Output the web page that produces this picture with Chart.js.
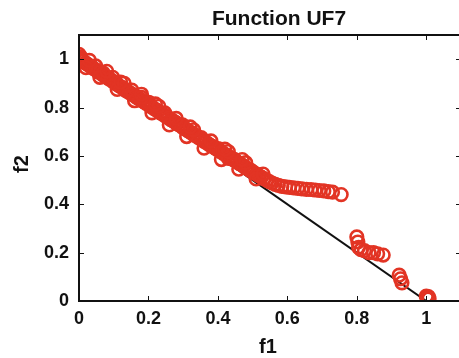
<!DOCTYPE html>
<html>
<head>
<meta charset="utf-8">
<script src="https://cdn.jsdelivr.net/npm/chart.js@4/dist/chart.umd.min.js"></script>
<style>
html,body{margin:0;padding:0;background:#fff;overflow:hidden;width:459px;height:358px;}
#wrap{width:461px;height:358px;}
</style>
</head>
<body>
<div id="wrap"><canvas id="c" width="461" height="358"></canvas></div>
<script>
const chartTitle = 'Function UF7';
const xAxisTitle = 'f1';
const yAxisTitle = 'f2';
const xTickValues = [0, 0.2, 0.4, 0.6, 0.8, 1];
const xTickLabels = ['0', '0.2', '0.4', '0.6', '0.8', '1'];
const yTickValues = [0, 0.2, 0.4, 0.6, 0.8, 1];
const yTickLabels = ['0', '0.2', '0.4', '0.6', '0.8', '1'];

// true Pareto front
const frontF1 = [0, 1];
const frontF2 = [1, 0];

// obtained solutions
const solF1 = [
0.000,0.003,0.008,0.012,0.018,0.022,0.028,0.033,0.038,0.043,0.050,0.055,0.060,0.066,0.072,0.078,0.083,0.088,0.094,0.100,
0.105,0.110,0.116,0.122,0.128,0.133,0.138,0.144,0.150,0.156,0.162,0.168,0.174,0.180,0.186,0.192,0.198,0.204,0.210,0.216,
0.222,0.228,0.234,0.240,0.246,0.252,0.258,0.264,0.270,0.276,0.282,0.288,0.294,0.300,0.306,0.312,0.318,0.324,0.330,0.336,
0.342,0.348,0.354,0.360,0.366,0.372,0.378,0.384,0.390,0.396,0.402,0.408,0.414,0.420,0.426,0.432,0.438,0.444,0.450,0.456,
0.462,0.468,0.474,0.480,0.486,0.492,0.498,0.505,0.512,0.518,0.525,0.532,0.540,0.548,0.556,0.565,0.574,0.584,0.595,0.606,
0.618,0.630,0.642,0.655,0.668,0.680,0.692,0.705,0.718,0.730,0.755,
0.005,0.048,0.097,0.152,0.201,0.247,0.298,0.352,0.401,0.447,0.495,0.070,0.180,0.280,0.330,0.430,
0.020,0.060,0.110,0.160,0.210,0.260,0.310,0.360,0.410,0.460,0.510,
0.030,0.080,0.130,0.180,0.230,0.280,0.330,0.380,0.430,0.480,0.530,0.120,0.220,0.320,0.420,0.470,
0.800,0.803,0.805,0.812,0.822,0.835,0.848,0.860,0.876,
0.922,0.926,0.930,
1.000,1.003,1.006,1.008,1.004
];
const solF2 = [
1.020,1.005,0.995,0.990,0.985,0.982,0.975,0.970,0.966,0.960,0.955,0.948,0.945,0.938,0.932,0.928,0.922,0.918,0.912,0.905,
0.900,0.896,0.890,0.884,0.880,0.872,0.868,0.863,0.858,0.852,0.846,0.840,0.836,0.830,0.824,0.818,0.814,0.806,0.802,0.796,
0.790,0.785,0.778,0.774,0.768,0.762,0.757,0.750,0.746,0.740,0.734,0.728,0.724,0.716,0.712,0.706,0.700,0.695,0.688,0.684,
0.678,0.672,0.668,0.660,0.656,0.650,0.644,0.640,0.634,0.628,0.624,0.618,0.612,0.606,0.602,0.596,0.590,0.585,0.580,0.574,
0.568,0.564,0.558,0.552,0.547,0.540,0.536,0.530,0.524,0.518,0.512,0.506,0.500,0.494,0.488,0.482,0.478,0.474,0.472,0.470,
0.468,0.466,0.464,0.462,0.461,0.459,0.457,0.455,0.452,0.450,0.440,
1.010,0.972,0.925,0.872,0.822,0.778,0.728,0.676,0.630,0.586,0.540,0.942,0.842,0.737,0.690,0.590,
0.965,0.925,0.875,0.828,0.778,0.728,0.680,0.632,0.585,0.545,0.505,
0.995,0.950,0.900,0.855,0.805,0.755,0.708,0.662,0.618,0.572,0.525,0.905,0.815,0.720,0.628,0.585,
0.265,0.244,0.222,0.212,0.208,0.200,0.200,0.195,0.190,
0.107,0.092,0.075,
0.020,0.014,0.018,0.010,0.008
];

const frontData = frontF1.map((x, i) => ({x: x, y: frontF2[i]}));
const solData = solF1.map((x, i) => ({x: x, y: solF2[i]}));

const ink = '#111';
const red = 'rgb(226,52,36)';

const framePlugin = {
  id: 'frame',
  afterDraw(chart) {
    const ctx = chart.ctx;
    const a = chart.chartArea;
    const xs = chart.scales.x, ys = chart.scales.y;
    ctx.save();
    ctx.strokeStyle = ink;
    ctx.lineWidth = 1;
    const tl = 5;
    xTickValues.forEach(v => {
      const px = Math.round(xs.getPixelForValue(v)) + 0.5;
      ctx.beginPath();
      ctx.moveTo(px, a.bottom); ctx.lineTo(px, a.bottom - tl);
      ctx.moveTo(px, a.top); ctx.lineTo(px, a.top + tl);
      ctx.stroke();
    });
    yTickValues.forEach(v => {
      const py = Math.round(ys.getPixelForValue(v)) + 0.5;
      ctx.beginPath();
      ctx.moveTo(a.left, py); ctx.lineTo(a.left + tl, py);
      ctx.moveTo(a.right, py); ctx.lineTo(a.right - tl, py);
      ctx.stroke();
    });
    ctx.lineWidth = 2;
    ctx.strokeRect(a.left, a.top, a.right - a.left, a.bottom - a.top);
    ctx.fillStyle = ink;
    ctx.textAlign = 'center';
    ctx.textBaseline = 'middle';
    ctx.font = 'bold 21px "Liberation Sans", Arial, sans-serif';
    ctx.fillText(chartTitle, 279, 19);
    ctx.font = 'bold 20px "Liberation Sans", Arial, sans-serif';
    ctx.fillText(xAxisTitle, 268, 347);
    ctx.translate(22, 164);
    ctx.rotate(-Math.PI / 2);
    ctx.fillText(yAxisTitle, 0, 0);
    ctx.restore();
  }
};

new Chart(document.getElementById('c'), {
  type: 'scatter',
  data: {
    datasets: [
      {
        label: 'solutions',
        data: solData,
        order: 0,
        showLine: false,
        pointStyle: 'circle',
        pointRadius: 6.3,
        pointBorderWidth: 2.6,
        pointBackgroundColor: 'rgba(0,0,0,0)',
        pointBorderColor: red,
        pointHoverRadius: 6.3
      },
      {
        label: 'front',
        data: frontData,
        order: 1,
        showLine: true,
        borderColor: ink,
        borderWidth: 2,
        pointRadius: 0,
        fill: false
      }
    ]
  },
  options: {
    responsive: false,
    animation: false,
    devicePixelRatio: 1,
    layout: {autoPadding: false, padding: {top: 35, left: 0, right: 0, bottom: 0}},
    plugins: {legend: {display: false}, tooltip: {enabled: false}, title: {display: false}},
    scales: {
      x: {
        type: 'linear', min: 0, max: 1.1,
        grid: {display: false, drawTicks: false},
        border: {display: false},
        afterBuildTicks: s => { s.ticks = xTickValues.map(v => ({value: v})); },
        afterFit: s => { s.height = 57; s.paddingLeft = 0; s.paddingRight = 0; },
        ticks: {
          padding: 7,
          color: ink,
          font: {family: '"Liberation Sans", Arial, sans-serif', size: 18, weight: 'bold'},
          callback: (v, i) => xTickLabels[i],
          maxRotation: 0
        }
      },
      y: {
        type: 'linear', min: 0, max: 1.1,
        grid: {display: false, drawTicks: false},
        border: {display: false},
        afterBuildTicks: s => { s.ticks = yTickValues.map(v => ({value: v})); },
        afterFit: s => { s.width = 79; s.paddingTop = 0; s.paddingBottom = 0; },
        ticks: {
          padding: 10,
          color: ink,
          font: {family: '"Liberation Sans", Arial, sans-serif', size: 18, weight: 'bold'},
          callback: (v, i) => yTickLabels[i]
        }
      }
    }
  },
  plugins: [framePlugin]
});
</script>
</body>
</html>
